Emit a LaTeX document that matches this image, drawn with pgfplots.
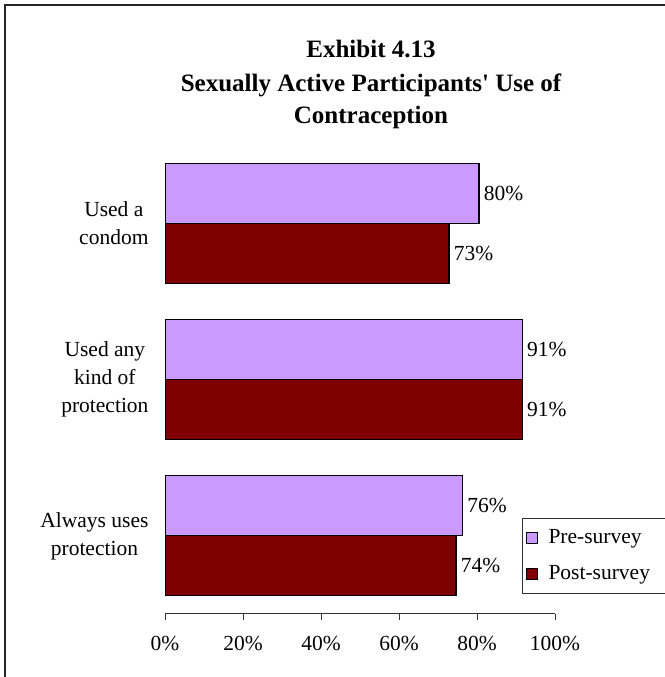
\documentclass[border=0pt]{standalone}
\usepackage{fontspec}
\setmainfont{Liberation Serif}
\usepackage{pgfplots}
\pgfplotsset{compat=1.18}
\definecolor{pre}{HTML}{CC99FF}
\definecolor{post}{HTML}{800000}
\newcommand{\lblfont}{\fontsize{21.5bp}{28bp}\selectfont}
\begin{document}
\begin{tikzpicture}
\path[use as bounding box, clip] (0,0) rectangle (665bp,677bp);
\draw[line width=1.5bp, black!85] (5bp,-20bp) -- (5bp,672bp) -- (700bp,672bp);
\begin{scope}[every node/.style={font=\fontsize{25bp}{30bp}\selectfont\bfseries, anchor=base}]
\node at (371bp,619bp) {Exhibit 4.13};
\node at (371bp,585bp) {Sexually Active Participants\textquotesingle{} Use of};
\node at (371bp,553bp) {Contraception};
\end{scope}
\begin{axis}[
  at={(165bp,63bp)}, anchor=south west, scale only axis,
  width=390bp, height=469bp,
  xmin=0, xmax=100, ymin=-0.5, ymax=2.5,
  xbar, bar width=0.384,
  axis lines=left,
  x axis line style={-, black!80, line width=1bp},
  y axis line style={draw=none},
  tick align=outside, major tick length=6bp,
  xtick={0,20,40,60,80,100},
  xtick style={black!80, line width=1bp},
  xticklabel={\pgfmathprintnumber{\tick}\%},
  xticklabel style={font=\lblfont, yshift=-13bp},
  /pgf/number format/assume math mode=true,
  ytick={0,1,2},
  ytick style={draw=none},
  yticklabels={{Always uses\\protection},{Used any\\kind of\\protection},{Used a\\condom}},
  yticklabel style={font=\lblfont, align=center, xshift=-7bp},
  every node near coord/.append style={font=\lblfont, anchor=west, xshift=1bp},
  legend entries={Pre-survey, Post-survey},
  legend image code/.code={\draw[#1, draw=black, line width=1bp] (0bp,-5.5bp) rectangle (11bp,5.5bp);},
  legend cell align=left,
  legend style={at={(axis description cs:0.9154,0.2047)}, anchor=north west,
    draw=black!80, line width=1bp, font=\lblfont,
    inner xsep=3bp, inner ysep=7bp, row sep=11bp,
    nodes={inner sep=3bp, text height=15bp, text depth=4bp},
    /tikz/every odd column/.append style={column sep=8bp}},
]
\addplot[fill=pre, draw=black, line width=1.2bp, bar shift=0.192,
  point meta=explicit symbolic, nodes near coords]
  coordinates {(76.3,0)[76\%] (91.6,1)[91\%] (80.5,2)[80\%]};
\addplot[fill=post, draw=black, line width=1.2bp, bar shift=-0.192,
  point meta=explicit symbolic, nodes near coords]
  coordinates {(74.6,0)[74\%] (91.6,1)[91\%] (72.8,2)[73\%]};
\legend{\makebox[125bp][l]{Pre-survey}, \makebox[125bp][l]{Post-survey}}
\end{axis}
\end{tikzpicture}
\end{document}
